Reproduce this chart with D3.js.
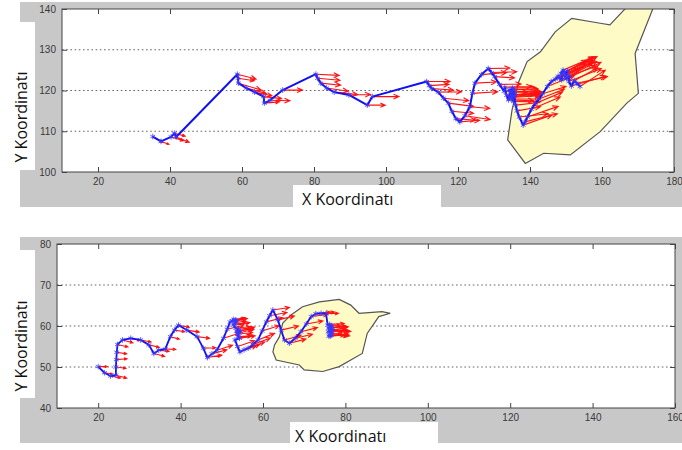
<!DOCTYPE html>
<html>
<head>
<meta charset="utf-8">
<script src="https://cdn.jsdelivr.net/npm/d3@7"></script>
<style>
  body { margin: 0; background: #fff; }
  .tick text { font-family: "Liberation Sans", Arial, sans-serif; font-size: 10px; fill: #3a3a3a; }
  .tick line { stroke: #444; }
  .axis-label { font-family: "Open Sans", sans-serif; font-size: 16px; fill: #111; }
</style>
</head>
<body>
<svg width="682" height="450"></svg>
<script>
// track points: [x, y, u, v] -> position and heading arrow (quiver)
var topTrack = [
  [35.2,108.7,2.8,-1.4],[37.5,107.5,2.2,-0.7],[40.3,108.6,3.5,-0.9],[41.2,109.5,3.0,-0.7],
  [41.7,108.6,3.6,-1.3],[58.7,124.0,5.2,-1.2],[58.9,123.0,4.5,-0.6],[59.0,121.8,6.3,-1.7],
  [61.2,120.6,5.5,-1.3],[63.5,119.6,4.8,-0.9],[66.0,118.5,5.0,-0.5],[66.2,116.9,4.2,0.3],
  [67.8,117.6,5.5,-0.1],[71.3,120.1,5.5,0.0],[80.5,124.0,6.5,-0.3],[81.0,123.0,6.2,-0.5],
  [81.9,121.8,5.5,-0.5],[83.5,120.6,6.0,-0.8],[85.6,119.6,6.5,-0.6],[89.7,118.9,6.0,0.1],
  [94.8,116.4,5.0,0.0],[96.2,118.5,7.4,0.0],[111.3,122.2,6.5,0.0],[112.0,121.2,5.5,0.3],
  [112.7,120.5,6.0,-0.4],[114.5,119.6,6.5,0.1],[116.0,118.1,7.0,-0.6],[117.3,116.9,7.0,-0.8],
  [118.3,114.9,6.0,-0.5],[119.4,113.1,5.5,-0.4],[120.5,112.3,5.5,0.4],[121.9,113.8,7.0,-0.9],
  [123.3,116.0,5.5,-0.4],[124.0,119.3,7.0,0.4],[124.7,121.8,6.0,0.3],[126.5,123.9,7.0,0.5],
  [128.4,125.4,6.0,0.1],[129.3,124.4,7.0,0.2],[130.2,123.4,5.5,-0.3],[131.5,121.5,6.0,0.1],
  [132.8,119.8,6.5,-0.2],[133.0,120.8,7.5,0.2],[133.5,118.8,8.0,0.3],[134.0,117.7,7.0,-0.2],
  [134.6,119.6,8.5,0.1],[135.0,118.5,8.0,0.4],[135.4,117.3,7.5,-0.1],[135.5,120.3,7.0,-0.3],
  [134.2,120.2,8.0,0.2],[134.8,118.9,7.5,0.5],[135.2,119.8,8.2,-0.2],[134.4,118.3,8.5,0.4],
  [135.8,119.0,7.0,0.3],[135.1,120.6,6.5,0.1],[134.9,117.9,8.0,0.0],[135.6,118.6,7.5,0.6],
  [136.0,116.4,6.0,0.6],[136.4,115.0,6.5,1.0],[137.0,113.5,8.0,0.8],[138.1,111.5,8.0,2.5],
  [138.6,112.3,9.0,2.0],[139.3,113.5,8.5,2.6],[140.4,115.4,8.0,3.0],[141.5,116.8,7.5,2.8],
  [142.5,117.9,7.0,2.4],[143.5,119.2,6.5,1.8],[144.8,121.0,7.5,2.6],[145.9,122.2,8.0,3.2],
  [147.0,122.8,8.5,3.8],[147.8,123.5,8.0,4.0],[148.2,123.0,9.5,4.2],[148.8,122.6,8.5,4.3],
  [149.0,123.8,8.0,3.0],[148.6,124.2,9.0,3.6],[149.2,125.0,8.5,3.2],[149.6,124.4,9.0,3.9],
  [150.4,124.8,7.5,3.4],[149.8,123.2,8.8,2.8],[150.0,123.6,8.0,3.8],[150.2,122.9,9.5,4.0],
  [151.0,123.5,7.5,3.6],[150.8,122.2,9.0,3.2],[151.5,121.1,9.5,2.4],[152.3,122.4,6.5,3.2],
  [153.0,121.8,8.5,1.6],[153.9,121.0,7.0,4.0]
];

var bottomTrack = [
  [20.0,50.1,2.2,0.0],[21.5,48.6,2.0,-0.3],[23.0,47.8,2.4,-0.5],[24.3,48.0,2.6,-0.7],
  [24.3,50.0,2.4,-0.3],[24.4,51.8,2.6,0.2],[24.5,53.6,2.4,-0.4],[24.7,55.5,2.5,-0.6],
  [25.9,56.6,2.5,-0.7],[27.9,57.0,2.2,-0.5],[30.3,56.6,2.5,-0.5],[32.3,55.4,2.5,-0.6],
  [33.5,53.3,2.6,-0.7],[34.7,54.1,2.5,-0.3],[36.3,54.4,2.5,-0.1],[37.5,57.4,2.2,-0.6],
  [38.5,59.0,2.5,-0.4],[39.5,60.2,2.6,-0.5],[41.5,59.0,3.0,-0.5],[44.0,57.4,3.0,-0.4],
  [45.5,54.6,3.0,0.1],[46.5,52.3,3.5,0.6],[47.6,53.2,3.6,1.0],[48.8,54.1,3.8,1.2],
  [50.4,57.0,4.0,1.3],[51.3,59.2,4.0,1.0],[52.0,61.0,4.2,0.8],[52.6,61.3,2.8,0.6],
  [52.9,61.6,2.6,0.3],[53.4,61.5,2.2,0.5],[53.2,60.8,2.5,0.4],[53.6,61.2,2.0,0.7],
  [53.0,60.5,2.8,0.2],[52.8,60.2,4.0,0.6],[53.4,59.5,3.5,0.3],[54.0,59.2,3.8,0.4],
  [53.6,58.8,4.0,0.5],[54.5,58.7,3.4,1.0],[54.2,58.3,3.6,0.9],[53.8,58.0,3.6,0.4],
  [54.0,57.4,3.2,0.2],[54.3,57.0,3.8,0.6],[53.2,56.6,4.0,1.2],[53.8,55.0,4.2,1.4],
  [54.4,53.7,4.0,1.5],[55.4,54.2,3.8,1.3],[56.4,54.6,4.0,1.5],[57.6,55.5,4.2,1.6],
  [58.8,56.6,4.0,1.6],[59.8,58.8,4.2,1.3],[60.8,61.0,4.0,1.0],[61.6,62.5,4.2,0.8],
  [62.4,63.9,4.0,0.6],[63.6,61.5,4.0,0.9],[64.4,59.0,4.2,1.0],[65.2,56.6,4.0,1.1],
  [66.4,55.8,4.0,1.0],[67.8,57.0,4.2,1.0],[69.2,58.6,4.0,1.0],[70.5,60.5,4.0,0.7],
  [71.7,62.3,4.0,0.5],[72.8,63.0,3.5,0.4],[74.1,63.1,3.2,0.3],[75.3,63.0,3.0,0.1],
  [75.7,60.2,3.0,0.0],[76.2,60.4,3.5,0.2],[76.7,60.0,3.6,-0.2],[75.9,59.5,4.5,0.3],
  [76.5,59.6,4.2,0.2],[76.3,59.0,4.8,-0.3],[76.9,59.2,3.8,-0.4],[75.8,58.6,4.2,0.4],
  [76.2,58.9,4.0,0.7],[76.8,58.6,4.5,0.1],[76.4,58.2,4.6,-0.6],[76.0,57.5,3.8,0.3],
  [76.4,57.6,4.4,0.4],[76.6,57.8,4.0,-0.2],[76.1,57.8,3.0,0.5]
];

// target zones (polygons)
var topZone = [
  [133.8,107.9],[138.7,102.1],[143.8,104.6],[151.2,104.2],[159.5,109.9],[166.9,116.9],
  [170.1,119.3],[169.2,129.1],[175.0,142.0],[168.5,142.0],[162.2,136.1],[159.5,136.5],
  [151.6,137.7],[147.0,134.4],[142.9,129.5],[139.2,127.1],[136.9,122.2],[135.0,115.2]
];
var bottomZone = [
  [62.4,53.7],[63.2,51.7],[68.8,50.5],[70.0,49.3],[74.5,48.9],[78.5,50.1],[81.3,51.7],
  [84.1,53.3],[85.3,58.2],[88.1,62.3],[90.9,63.1],[88.9,63.5],[83.3,63.1],[81.3,65.1],
  [78.5,66.5],[73.7,65.9],[69.6,64.7],[66.8,62.7],[64.8,60.7],[64.0,57.4],[62.8,55.4]
];

var topXTicks = [20, 40, 60, 80, 100, 120, 140, 160, 180];
var topYTicks = [100, 110, 120, 130, 140];
var bottomXTicks = [20, 40, 60, 80, 100, 120, 140, 160];
var bottomYTicks = [40, 50, 60, 70, 80];
var xLabel = 'X Koordinatı';
var yLabel = 'Y Koordinatı';

var svg = d3.select('svg');

var panels = [
  { id: 'top', track: topTrack, zone: topZone, xTicks: topXTicks, yTicks: topYTicks,
    xDomain: [10, 180], yDomain: [100, 140],
    gray: [20, 2, 662, 205], yBox: [0, 22, 35, 148], xBox: [293, 185, 148, 25],
    plot: {l: 62, t: 9, r: 674, b: 172}, yLab: [27, 117], xLab: [302, 205], lw: 2 },
  { id: 'bottom', track: bottomTrack, zone: bottomZone, xTicks: bottomXTicks, yTicks: bottomYTicks,
    xDomain: [10, 160], yDomain: [40, 80],
    gray: [20, 237, 662, 206], yBox: [0, 250, 35, 148], xBox: [290, 422, 148, 28],
    plot: {l: 57, t: 244, r: 675, b: 408}, yLab: [27, 346], xLab: [295, 442], lw: 1.8 }
];

function arrowPath(sx, sy, ex, ey) {
  var len = Math.hypot(ex - sx, ey - sy);
  var a = Math.atan2(ey - sy, ex - sx);
  var hl = Math.min(6, 0.3 * len);
  var b1 = [ex - hl * Math.cos(a - 0.42), ey - hl * Math.sin(a - 0.42)];
  var b2 = [ex - hl * Math.cos(a + 0.42), ey - hl * Math.sin(a + 0.42)];
  return 'M' + sx + ',' + sy + 'L' + ex + ',' + ey +
         'M' + b1 + 'L' + ex + ',' + ey + 'L' + b2;
}

var star = d3.symbol().type(d3.symbolAsterisk || d3.symbolCross).size(22);

panels.forEach(function(p) {
  var w = p.plot.r - p.plot.l, h = p.plot.b - p.plot.t;

  // gray figure background and the white label boxes
  svg.append('rect').attr('x', p.gray[0]).attr('y', p.gray[1])
    .attr('width', p.gray[2]).attr('height', p.gray[3]).attr('fill', '#c8c8c8');
  [p.yBox, p.xBox].forEach(function(b) {
    svg.append('rect').attr('x', b[0]).attr('y', b[1])
      .attr('width', b[2]).attr('height', b[3]).attr('fill', '#fff');
  });

  var g = svg.append('g').attr('transform', 'translate(' + [p.plot.l, p.plot.t] + ')');
  g.append('rect').attr('width', w).attr('height', h).attr('fill', '#fff');

  var x = d3.scaleLinear().domain(p.xDomain).range([0, w]);
  var y = d3.scaleLinear().domain(p.yDomain).range([h, 0]);

  g.append('clipPath').attr('id', 'clip-' + p.id)
    .append('rect').attr('width', w).attr('height', h);

  // dotted grid (horizontal only)
  g.selectAll('.grid')
    .data(p.yTicks.slice(1, -1))
    .enter().append('line')
    .attr('x1', 0).attr('x2', w)
    .attr('y1', function(d) { return y(d); }).attr('y2', function(d) { return y(d); })
    .attr('stroke', '#666').attr('stroke-width', 1.2).attr('stroke-dasharray', '1.6,2.6');

  var inner = g.append('g').attr('clip-path', 'url(#clip-' + p.id + ')');

  inner.append('path')
    .datum(p.zone)
    .attr('d', d3.line().x(function(d) { return x(d[0]); }).y(function(d) { return y(d[1]); }).curve(d3.curveLinearClosed))
    .attr('fill', '#fefbc7').attr('stroke', '#555').attr('stroke-width', 1.2);

  inner.selectAll('.arrow')
    .data(p.track)
    .enter().append('path')
    .attr('class', 'arrow')
    .attr('d', function(d) { return arrowPath(x(d[0]), y(d[1]), x(d[0] + d[2]), y(d[1] + d[3])); })
    .attr('fill', 'none').attr('stroke', '#ff1010').attr('stroke-width', 1.1);

  inner.append('path')
    .datum(p.track)
    .attr('d', d3.line().x(function(d) { return x(d[0]); }).y(function(d) { return y(d[1]); }))
    .attr('fill', 'none').attr('stroke', '#1010f0').attr('stroke-width', p.lw)
    .attr('stroke-linejoin', 'round');

  inner.selectAll('.star')
    .data(p.track)
    .enter().append('path')
    .attr('transform', function(d) { return 'translate(' + [x(d[0]), y(d[1])] + ')'; })
    .attr('d', star)
    .attr('fill', 'none').attr('stroke', '#3a3aff').attr('stroke-width', 0.8);

  // axes with inward ticks on every side
  g.append('g').attr('transform', 'translate(0,' + h + ')')
    .call(d3.axisBottom(x).tickValues(p.xTicks).tickSizeInner(-5).tickSizeOuter(0).tickPadding(6))
    .call(function(s) { s.select('.domain').remove(); });
  g.append('g')
    .call(d3.axisTop(x).tickValues(p.xTicks).tickSizeInner(-5).tickSizeOuter(0).tickFormat(''))
    .call(function(s) { s.select('.domain').remove(); });
  g.append('g')
    .call(d3.axisLeft(y).tickValues(p.yTicks).tickSizeInner(-5).tickSizeOuter(0).tickPadding(6))
    .call(function(s) { s.select('.domain').remove(); });
  g.append('g').attr('transform', 'translate(' + w + ',0)')
    .call(d3.axisRight(y).tickValues(p.yTicks).tickSizeInner(-5).tickSizeOuter(0).tickFormat(''))
    .call(function(s) { s.select('.domain').remove(); });

  g.append('rect').attr('width', w).attr('height', h)
    .attr('fill', 'none').attr('stroke', '#444').attr('stroke-width', 1);

  svg.append('text').attr('class', 'axis-label')
    .attr('transform', 'translate(' + p.yLab + ') rotate(-90)')
    .attr('text-anchor', 'middle')
    .text(yLabel);
  svg.append('text').attr('class', 'axis-label')
    .attr('x', p.xLab[0]).attr('y', p.xLab[1])
    .text(xLabel);
});
</script>
</body>
</html>
